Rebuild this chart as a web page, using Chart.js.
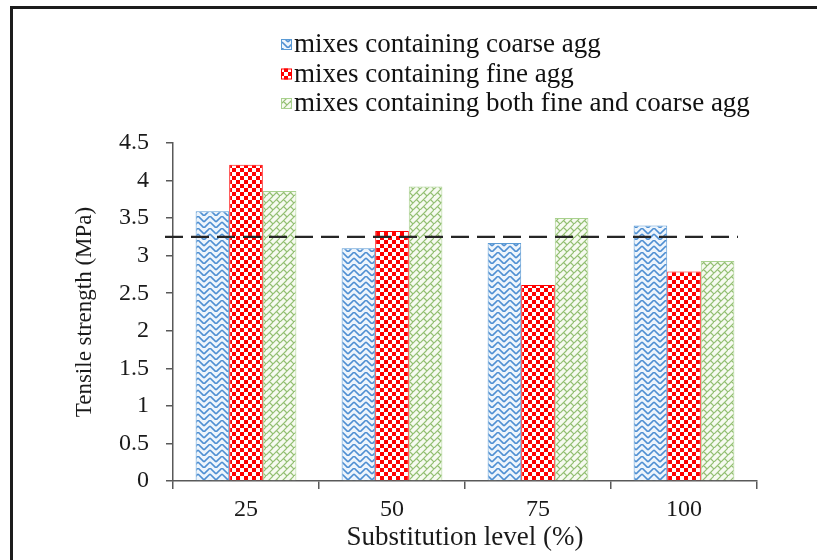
<!DOCTYPE html>
<html>
<head>
<meta charset="utf-8">
<script src="https://cdn.jsdelivr.net/npm/chart.js@4/dist/chart.umd.min.js"></script>
<style>
  html, body { margin: 0; padding: 0; background: #fff; overflow: hidden; }
  #wrap { position: relative; width: 817px; height: 560px; }
  #chart { display: block; }
  #frame { position: absolute; left: 10px; top: 6px; right: 0; bottom: 0; border-top: 3px solid #1c1c1c; border-left: 3px solid #1c1c1c; pointer-events: none; }
</style>
</head>
<body>
<div id="wrap">
  <canvas id="chart"></canvas>
  <div id="frame"></div>
</div>
<script>
const categories = ['25', '50', '75', '100'];
const seriesLabels = [
  'mixes containing coarse agg',
  'mixes containing fine agg',
  'mixes containing both fine and coarse agg'
];
const coarseAgg = [3.59, 3.10, 3.17, 3.40];
const fineAgg = [4.21, 3.33, 2.61, 2.79];
const bothAgg = [3.86, 3.92, 3.50, 2.93];
const controlStrength = 3.25;
const yMin = 0, yMax = 4.5, yStep = 0.5;

const serif = 'Liberation Serif';

function makePattern(size, draw) {
  const c = document.createElement('canvas');
  c.width = size;
  c.height = size;
  const g = c.getContext('2d');
  draw(g, size);
  return g.createPattern(c, 'repeat');
}

// blue zigzag weave
const bluePattern = makePattern(12, (g, s) => {
  g.fillStyle = '#eef5fc';
  g.fillRect(0, 0, s, s);
  g.strokeStyle = '#4f8fd2';
  g.lineWidth = 1.6;
  g.beginPath();
  g.moveTo(0, 6); g.lineTo(6, 0);
  g.moveTo(0, 12); g.lineTo(6, 6);
  g.moveTo(6, 0); g.lineTo(12, 6);
  g.moveTo(6, 6); g.lineTo(12, 12);
  g.stroke();
});

// red checkerboard
const redPattern = makePattern(8, (g, s) => {
  g.fillStyle = '#ffffff';
  g.fillRect(0, 0, s, s);
  g.fillStyle = '#ff0000';
  g.fillRect(0, 0, 4, 4);
  g.fillRect(4, 4, 4, 4);
});

// green shingle
const greenPattern = makePattern(14, (g, s) => {
  g.fillStyle = '#f6faf0';
  g.fillRect(0, 0, s, s);
  g.strokeStyle = '#93bf72';
  g.lineWidth = 1.2;
  g.beginPath();
  g.moveTo(0, 7); g.lineTo(7, 0);
  g.moveTo(0, 14); g.lineTo(14, 0);
  g.moveTo(7, 14); g.lineTo(14, 7);
  g.moveTo(3.5, 3.5); g.lineTo(7, 7);
  g.moveTo(10.5, 3.5); g.lineTo(14, 7);
  g.moveTo(3.5, 10.5); g.lineTo(7, 14);
  g.moveTo(10.5, 10.5); g.lineTo(14, 14);
  g.stroke();
});

const referenceLine = {
  id: 'referenceLine',
  afterDatasetsDraw(chart) {
    const { ctx, chartArea, scales } = chart;
    const y = scales.y.getPixelForValue(controlStrength);
    ctx.save();
    ctx.strokeStyle = '#262626';
    ctx.lineWidth = 2.2;
    ctx.setLineDash([18, 8]);
    ctx.beginPath();
    ctx.moveTo(chartArea.left - 8, y);
    ctx.lineTo(chartArea.right - 19, y);
    ctx.stroke();
    ctx.restore();
  }
};

const sideLegend = {
  id: 'sideLegend',
  afterDraw(chart) {
    const { ctx } = chart;
    const x = 281, top = 44, step = 29.5;
    ctx.save();
    ctx.font = '27px "' + serif + '"';
    ctx.textBaseline = 'middle';
    chart.data.datasets.forEach((ds, i) => {
      const y = top + i * step;
      ctx.fillStyle = ds.backgroundColor;
      ctx.fillRect(x, y - 5, 11, 11);
      ctx.strokeStyle = ds.borderColor;
      ctx.lineWidth = 1;
      ctx.strokeRect(x + 0.5, y - 4.5, 10, 10);
      ctx.fillStyle = '#111';
      ctx.fillText(ds.label, x + 13, y + 1);
    });
    ctx.restore();
  }
};

new Chart(document.getElementById('chart'), {
  type: 'bar',
  data: {
    labels: categories,
    datasets: [
      { label: seriesLabels[0], data: coarseAgg, backgroundColor: bluePattern, borderColor: '#5b9bd5', borderWidth: 1 },
      { label: seriesLabels[1], data: fineAgg, backgroundColor: redPattern, borderColor: '#ff0000', borderWidth: 1 },
      { label: seriesLabels[2], data: bothAgg, backgroundColor: greenPattern, borderColor: '#a9d18e', borderWidth: 1 }
    ]
  },
  options: {
    responsive: true,
    maintainAspectRatio: false,
    animation: false,
    layout: { padding: { left: 67, right: 60, top: 143, bottom: 2 } },
    datasets: { bar: { categoryPercentage: 0.69, barPercentage: 1.0 } },
    plugins: { legend: { display: false }, tooltip: { enabled: false } },
    scales: {
      x: {
        afterFit: scale => { scale.height = 77; },
        grid: { drawOnChartArea: false, drawTicks: true, tickLength: 8, color: '#595959', lineWidth: 1.5 },
        border: { display: true, color: '#595959', width: 1.5 },
        ticks: { color: '#1a1a1a', padding: 6, font: { family: serif, size: 24 } },
        title: { display: true, text: 'Substitution level (%)', color: '#1a1a1a', padding: { top: 0, bottom: 4 }, font: { family: serif, size: 27 } }
      },
      y: {
        min: yMin,
        max: yMax,
        afterFit: scale => { scale.width = 106; },
        grid: { drawOnChartArea: false, drawTicks: true, tickLength: 7, color: '#595959', lineWidth: 1.5 },
        border: { display: true, color: '#595959', width: 1.5 },
        ticks: { stepSize: yStep, color: '#1a1a1a', padding: 17, font: { family: serif, size: 24 }, callback: v => String(v) },
        title: { display: true, text: 'Tensile strength (MPa)', color: '#1a1a1a', padding: 4, font: { family: serif, size: 23 } }
      }
    }
  },
  plugins: [referenceLine, sideLegend]
});
</script>
</body>
</html>
